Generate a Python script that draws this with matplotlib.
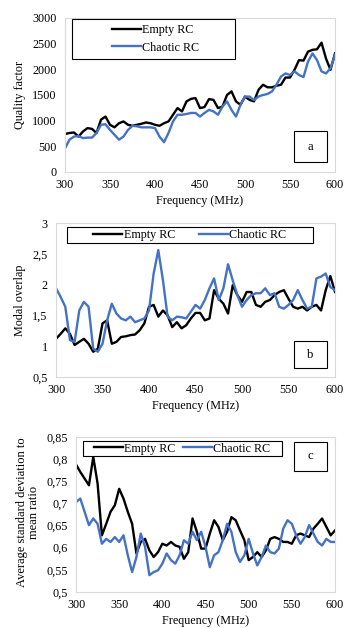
import numpy as np
import matplotlib
matplotlib.use("Agg")
import matplotlib.pyplot as plt
from matplotlib.patches import Rectangle

plt.rcParams['font.family'] = ['Liberation Serif', 'DejaVu Serif']

freq = list(range(300, 601, 5))

# Panel a: quality factor
q_empty = [740, 760, 770, 690, 790, 855, 840, 760, 1020, 1080, 920, 870, 950, 985, 920, 900,
           920, 940, 965, 950, 920, 900, 950, 985, 1115, 1245, 1180, 1375, 1425, 1440, 1245,
           1265, 1420, 1405, 1245, 1275, 1500, 1570, 1375, 1310, 1470, 1405, 1375, 1600, 1700,
           1650, 1650, 1680, 1700, 1840, 1840, 1990, 2180, 2170, 2345, 2380, 2390, 2520, 2210,
           1990, 2310]
q_chaotic = [460, 630, 690, 700, 660, 670, 670, 760, 920, 930, 820, 725, 630, 690, 820, 900,
             890, 870, 870, 870, 855, 690, 580, 760, 985, 1115, 1115, 1130, 1150, 1150, 1080,
             1150, 1210, 1180, 1115, 1275, 1375, 1210, 1080, 1310, 1470, 1470, 1400, 1470, 1500,
             1520, 1570, 1700, 1860, 1920, 1890, 1960, 1890, 1850, 2150, 2310, 2180, 1960, 1920,
             2020, 2280]

# Panel b: modal overlap
m_empty = [1.12, 1.20, 1.29, 1.20, 1.02, 1.07, 1.12, 1.04, 0.91, 0.96, 1.37, 1.42, 1.04, 1.07,
           1.15, 1.16, 1.18, 1.19, 1.26, 1.37, 1.64, 1.67, 1.48, 1.58, 1.50, 1.31, 1.39, 1.29,
           1.34, 1.45, 1.54, 1.54, 1.42, 1.45, 1.91, 1.77, 1.69, 1.53, 1.99, 1.83, 1.72, 1.88,
           1.88, 1.67, 1.64, 1.72, 1.75, 1.83, 1.88, 1.91, 1.77, 1.64, 1.61, 1.64, 1.58, 1.64,
           1.67, 1.58, 1.91, 2.14, 1.88]
m_chaotic = [1.94, 1.80, 1.64, 1.10, 1.07, 1.58, 1.72, 1.64, 0.96, 0.91, 1.04, 1.42, 1.69, 1.53,
             1.45, 1.42, 1.48, 1.39, 1.42, 1.45, 1.58, 2.18, 2.56, 2.07, 1.48, 1.42, 1.48, 1.47,
             1.45, 1.56, 1.67, 1.61, 1.75, 1.94, 2.10, 1.75, 1.94, 2.33, 2.07, 1.83, 1.64, 1.75,
             1.83, 1.86, 1.86, 1.94, 1.83, 1.86, 1.64, 1.61, 1.67, 1.75, 1.91, 1.75, 1.61, 1.64,
             2.10, 2.13, 2.18, 1.96, 1.91]

# Panel c: average std / mean ratio
s_empty = [0.788, 0.771, 0.756, 0.741, 0.805, 0.745, 0.628, 0.654, 0.681, 0.696, 0.733, 0.711,
           0.681, 0.654, 0.587, 0.613, 0.620, 0.594, 0.579, 0.590, 0.609, 0.605, 0.613, 0.605,
           0.602, 0.575, 0.590, 0.666, 0.636, 0.598, 0.598, 0.632, 0.662, 0.647, 0.617, 0.636,
           0.669, 0.662, 0.639, 0.617, 0.572, 0.579, 0.590, 0.579, 0.594, 0.620, 0.624, 0.620,
           0.613, 0.613, 0.609, 0.628, 0.632, 0.628, 0.624, 0.643, 0.654, 0.666, 0.647, 0.628,
           0.639]
s_chaotic = [0.703, 0.711, 0.681, 0.651, 0.666, 0.654, 0.609, 0.620, 0.613, 0.624, 0.613, 0.628,
             0.583, 0.545, 0.579, 0.632, 0.602, 0.538, 0.545, 0.549, 0.564, 0.587, 0.572, 0.564,
             0.583, 0.617, 0.609, 0.636, 0.617, 0.636, 0.602, 0.556, 0.583, 0.590, 0.617, 0.654,
             0.636, 0.590, 0.568, 0.583, 0.620, 0.587, 0.560, 0.579, 0.605, 0.590, 0.587, 0.598,
             0.643, 0.662, 0.654, 0.628, 0.609, 0.624, 0.651, 0.632, 0.613, 0.605, 0.620, 0.613,
             0.613]

x_ticks = [300, 350, 400, 450, 500, 550, 600]
ya_ticks = [0, 500, 1000, 1500, 2000, 2500, 3000]
ya_labels = ['0', '500', '1000', '1500', '2000', '2500', '3000']
yb_ticks = [0.5, 1.0, 1.5, 2.0, 2.5, 3.0]
yb_labels = ['0,5', '1', '1,5', '2', '2,5', '3']
yc_ticks = [0.5, 0.55, 0.6, 0.65, 0.7, 0.75, 0.8, 0.85]
yc_labels = ['0,5', '0,55', '0,6', '0,65', '0,7', '0,75', '0,8', '0,85']

BLACK = '#000000'
BLUE = '#4472C4'
FS = 8.7
LW = 1.7

W, H = 344, 628
fig = plt.figure(figsize=(W / 100, H / 100), dpi=100)


def px_axes(l, t, r, b):
    return fig.add_axes([l / W, 1 - b / H, (r - l) / W, (b - t) / H])


def style(ax, yticks, ylabels, ylim):
    ax.set_xlim(300, 600)
    ax.set_ylim(*ylim)
    ax.set_xticks(x_ticks)
    ax.set_xticklabels([str(v) for v in x_ticks], fontsize=FS)
    ax.set_yticks(yticks)
    ax.set_yticklabels(ylabels, fontsize=FS)
    ax.tick_params(axis='y', length=0, pad=6)
    ax.tick_params(axis='x', length=0, pad=5)
    for s in ax.spines.values():
        s.set_color('#D9D9D9')
        s.set_linewidth(0.8)
    ax.set_xlabel('Frequency (MHz)', fontsize=FS, labelpad=3)


def box(ax, x0, y0, x1, y1, letter=None):
    ax.add_patch(Rectangle((x0, y0), x1 - x0, y1 - y0, transform=ax.transAxes,
                           fill=True, facecolor='white', edgecolor='black', lw=0.8, zorder=5))
    if letter:
        ax.text((x0 + x1) / 2, (y0 + y1) / 2, letter, transform=ax.transAxes,
                ha='center', va='center', fontsize=FS + 0.5, zorder=6)


# Panel a
axa = px_axes(65, 18, 335, 172)
la, = axa.plot(freq, q_empty, color=BLACK, lw=LW)
lb, = axa.plot(freq, q_chaotic, color=BLUE, lw=LW)
style(axa, ya_ticks, ya_labels, (0, 3000))
box(axa, 0.026, 0.734, 0.63, 0.994)
leg = axa.legend([la, lb], ['Empty RC', 'Chaotic RC'], loc='center',
                 bbox_to_anchor=(0.335, 0.864), frameon=False, fontsize=FS,
                 handlelength=2.4, handletextpad=0.1, labelspacing=0.45, borderpad=0)
leg.set_zorder(7)
box(axa, 0.848, 0.065, 0.970, 0.266, 'a')
fig.text(20 / W, 1 - 95 / H, 'Quality factor', rotation=90, ha='center', va='center', fontsize=FS)

# Panel b
axb = px_axes(56, 223, 335, 377)
la, = axb.plot(freq, m_empty, color=BLACK, lw=LW)
lb, = axb.plot(freq, m_chaotic, color=BLUE, lw=LW)
style(axb, yb_ticks, yb_labels, (0.5, 3.0))
box(axb, 0.039, 0.870, 0.921, 0.974)
leg = axb.legend([la, lb], ['Empty RC', 'Chaotic RC'], loc='center', ncol=2,
                 bbox_to_anchor=(0.48, 0.922), frameon=False, fontsize=FS,
                 handlelength=2.4, handletextpad=0.1, columnspacing=2.0, borderpad=0)
leg.set_zorder(7)
box(axb, 0.853, 0.058, 0.971, 0.234, 'b')
fig.text(20 / W, 1 - 300 / H, 'Modal overlap', rotation=90, ha='center', va='center', fontsize=FS)

# Panel c
axc = px_axes(76, 437, 335, 592)
la, = axc.plot(freq, s_empty, color=BLACK, lw=LW)
lb, = axc.plot(freq, s_chaotic, color=BLUE, lw=LW)
style(axc, yc_ticks, yc_labels, (0.5, 0.85))
box(axc, 0.027, 0.877, 0.795, 0.974)
leg = axc.legend([la, lb], ['Empty RC', 'Chaotic RC'], loc='center', ncol=2,
                 bbox_to_anchor=(0.41, 0.925), frameon=False, fontsize=FS,
                 handlelength=2.4, handletextpad=0.1, columnspacing=0.6, borderpad=0)
leg.set_zorder(7)
box(axc, 0.842, 0.781, 0.969, 0.968, 'c')
fig.text(28 / W, 1 - 512 / H, 'Average standard deviation to\nmean ratio', rotation=90,
         ha='center', va='center', fontsize=FS + 0.3, linespacing=1.05)

fig.savefig('out.png', dpi=100)
